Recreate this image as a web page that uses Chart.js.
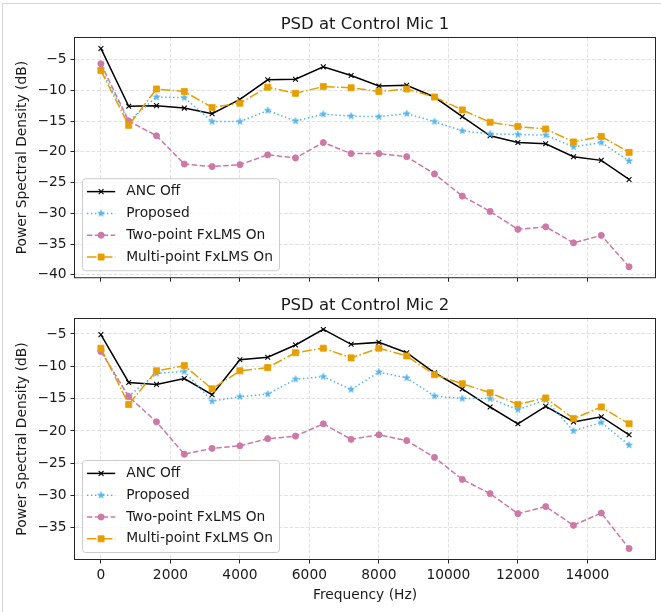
<!DOCTYPE html>
<html>
<head>
<meta charset="utf-8">
<script src="https://cdn.jsdelivr.net/npm/chart.js@4/dist/chart.umd.min.js"></script>
<style>
  html, body { margin: 0; padding: 0; background: #ffffff; }
  #wrap { position: relative; width: 661px; height: 612px; overflow: hidden; background: #ffffff; }
  #edge { position: absolute; left: 2px; top: 3px; width: 700px; height: 700px;
          border-left: 1px solid #d6d6d6; border-top: 1px solid #d6d6d6; }
  canvas { position: absolute; left: 0; }
  #mic1 { top: 0; }
  #mic2 { top: 281px; }
</style>
</head>
<body>
<div id="wrap">
  <div id="edge"></div>
  <canvas id="mic1" width="661" height="290"></canvas>
  <canvas id="mic2" width="661" height="331"></canvas>
</div>
<script>
// Frequency bins (Hz)
const freqs = [0, 800, 1600, 2400, 3200, 4000, 4800, 5600, 6400, 7200,
               8000, 8800, 9600, 10400, 11200, 12000, 12800, 13600, 14400, 15200];

// Axis tick values
const xTickValues = [0, 2000, 4000, 6000, 8000, 10000, 12000, 14000];
const yTickValuesMic1 = [-5, -10, -15, -20, -25, -30, -35, -40];
const yTickValuesMic2 = [-5, -10, -15, -20, -25, -30, -35];

// Text
const seriesLabels = ['ANC Off', 'Proposed', 'Two-point FxLMS On', 'Multi-point FxLMS On'];
const panelTitles = ['PSD at Control Mic 1', 'PSD at Control Mic 2'];
const xAxisTitle = 'Frequency (Hz)';
const yAxisTitle = 'Power Spectral Density (dB)';

// PSD at control mic 1 (dB)
const ancOffMic1   = [-3.2, -12.6, -12.5, -12.9, -13.8, -11.5, -8.3, -8.2, -6.2, -7.6,
                      -9.3, -9.2, -11.1, -14.3, -17.4, -18.5, -18.7, -20.8, -21.4, -24.5];
const proposedMic1 = [-6.6, -15.0, -11.1, -11.2, -15.1, -15.1, -13.3, -15.0, -13.9, -14.2,
                      -14.3, -13.8, -15.1, -16.6, -17.1, -17.2, -17.3, -19.2, -18.5, -21.5];
const twoPointMic1 = [-5.7, -15.0, -17.4, -22.0, -22.4, -22.1, -20.5, -21.0, -18.5, -20.3,
                      -20.3, -20.8, -23.6, -27.2, -29.7, -32.6, -32.2, -34.8, -33.6, -38.7];
const multiPointMic1 = [-6.8, -15.7, -9.8, -10.2, -12.8, -12.1, -9.5, -10.5, -9.4, -9.6,
                        -10.2, -9.8, -11.1, -13.2, -15.2, -15.9, -16.3, -18.4, -17.5, -20.1];

// PSD at control mic 2 (dB)
const ancOffMic2   = [-5.1, -12.5, -12.8, -11.9, -14.4, -9.0, -8.6, -6.7, -4.3, -6.6,
                      -6.3, -7.9, -11.0, -13.5, -16.3, -18.9, -16.2, -18.6, -17.8, -20.6];
const proposedMic2 = [-7.7, -14.6, -11.1, -10.8, -15.4, -14.7, -14.3, -12.0, -11.6, -13.6,
                      -10.9, -11.8, -14.6, -15.0, -15.0, -16.7, -15.2, -20.0, -18.7, -22.2];
const twoPointMic2 = [-7.7, -14.7, -18.6, -23.6, -22.7, -22.3, -21.2, -20.8, -18.9, -21.3,
                      -20.6, -21.5, -24.1, -27.5, -29.7, -32.8, -31.7, -34.6, -32.7, -38.2];
const multiPointMic2 = [-7.2, -15.9, -10.7, -9.9, -13.5, -10.7, -10.2, -7.9, -7.2, -8.7,
                        -7.2, -8.4, -11.3, -12.7, -14.1, -15.9, -14.9, -18.1, -16.3, -18.9];

const FONT = "'DejaVu Sans', 'Liberation Sans', sans-serif";
const LABEL_SIZE = 13.8;
const TITLE_SIZE = 16.5;
const TEXT = '#1a1a1a';
const SPINE = '#262626';

// Filled five-point star used as the "Proposed" marker
function starMarker(color, outer, inner) {
  const size = Math.ceil(outer * 2 + 2);
  const c = document.createElement('canvas');
  c.width = size; c.height = size;
  const g = c.getContext('2d');
  g.translate(size / 2, size / 2);
  g.beginPath();
  for (let k = 0; k < 10; k++) {
    const r = k % 2 ? inner : outer;
    const a = -Math.PI / 2 + k * Math.PI / 5;
    g.lineTo(r * Math.cos(a), r * Math.sin(a));
  }
  g.closePath();
  g.fillStyle = color; g.fill();
  g.lineWidth = 0.6; g.strokeStyle = color; g.stroke();
  return c;
}

const styles = [
  { color: '#000000', pointStyle: 'crossRot', radius: 3.4, pointBorderWidth: 1.1, dash: [], order: 4 },
  { color: '#56B4E9', pointStyle: starMarker('#56B4E9', 3.6, 1.4), radius: 3, pointBorderWidth: 0, dash: [1.5, 2.5], order: 3 },
  { color: '#CC79A7', pointStyle: 'circle', radius: 3.1, pointBorderWidth: 0.8, dash: [5.5, 2.4], order: 2 },
  { color: '#E69F00', pointStyle: 'rect', radius: 4.3, pointBorderWidth: 0.8, dash: [9.6, 2.4, 1.5, 2.4], order: 1 }
];

function buildDatasets(series) {
  return series.map((vals, i) => {
    const s = styles[i];
    return {
      label: seriesLabels[i],
      data: freqs.map((f, k) => ({ x: f, y: vals[k] })),
      borderColor: s.color,
      backgroundColor: s.color,
      borderWidth: 1.5,
      borderDash: s.dash,
      pointStyle: s.pointStyle,
      pointRadius: s.radius,
      pointBorderWidth: s.pointBorderWidth,
      pointBackgroundColor: s.color,
      pointBorderColor: s.color,
      tension: 0,
      fill: false,
      order: s.order
    };
  });
}

// Axes frame (all four spines) and the boxed legend in the lower-left corner
const frameAndLegend = {
  id: 'frameAndLegend',
  afterDatasetsDraw(chart) {
    const { ctx, chartArea: a } = chart;
    ctx.save();
    ctx.strokeStyle = SPINE;
    ctx.lineWidth = 1;
    ctx.setLineDash([]);
    ctx.strokeRect(a.left, a.top, a.right - a.left, a.bottom - a.top);

    const w = 197, h = 92;
    const x0 = a.left + 8, y0 = a.bottom - 7 - h;
    ctx.beginPath();
    ctx.roundRect(x0, y0, w, h, 3);
    ctx.fillStyle = 'rgba(255,255,255,0.8)';
    ctx.fill();
    ctx.strokeStyle = '#cccccc';
    ctx.lineWidth = 1;
    ctx.stroke();

    chart.data.datasets.forEach((ds, i) => {
      const ry = y0 + 12.9 + i * 21.8;
      ctx.save();
      ctx.strokeStyle = ds.borderColor;
      ctx.lineWidth = ds.borderWidth;
      ctx.setLineDash(ds.borderDash);
      ctx.beginPath();
      ctx.moveTo(x0 + 4.4, ry);
      ctx.lineTo(x0 + 32.7, ry);
      ctx.stroke();
      ctx.setLineDash([]);
      ctx.fillStyle = ds.pointBackgroundColor;
      ctx.strokeStyle = ds.pointBorderColor;
      ctx.lineWidth = ds.pointBorderWidth;
      Chart.helpers.drawPoint(ctx, {
        pointStyle: ds.pointStyle, rotation: 0,
        radius: ds.pointRadius, borderWidth: ds.pointBorderWidth
      }, x0 + 18.6, ry);
      ctx.restore();

      ctx.fillStyle = TEXT;
      ctx.font = LABEL_SIZE + 'px ' + FONT;
      ctx.textAlign = 'left';
      ctx.textBaseline = 'middle';
      ctx.fillText(ds.label, x0 + 43.7, ry);
    });
    ctx.restore();
  }
};

const minus = v => (v < 0 ? '\u2212' : '') + Math.abs(v);

function makePanel(canvasId, title, series, yTicks, showX) {
  const all = series.flat();
  const lo = Math.min(...all), hi = Math.max(...all);
  const yPad = (hi - lo) * 0.05;
  const xLo = freqs[0], xHi = freqs[freqs.length - 1];
  const xPad = (xHi - xLo) * 0.05;
  const gridOpts = {
    color: '#d9d9d9', lineWidth: 0.8,
    drawTicks: true, tickLength: 4,
    tickColor: SPINE, tickWidth: 1, tickBorderDash: []
  };
  return new Chart(document.getElementById(canvasId), {
    type: 'line',
    data: { datasets: buildDatasets(series) },
    plugins: [frameAndLegend],
    options: {
      responsive: false,
      animation: false,
      events: [],
      layout: { padding: { left: 0, right: 5.5, top: 0, bottom: 0 } },
      plugins: {
        legend: { display: false },
        tooltip: { enabled: false },
        title: {
          display: true, text: title, fullSize: false, color: TEXT,
          font: { family: FONT, size: TITLE_SIZE, weight: 'normal' },
          padding: { top: 14.5, bottom: 3.2 }
        }
      },
      scales: {
        x: {
          type: 'linear',
          min: xLo - xPad, max: xHi + xPad,
          afterBuildTicks: s => { s.ticks = xTickValues.map(v => ({ value: v })); },
          afterFit: s => { s.height = showX ? 52.5 : 10.5; },
          grid: gridOpts,
          border: { display: false, dash: [3.8, 1.7] },
          ticks: {
            display: showX, padding: 3.5, color: TEXT, maxRotation: 0, autoSkip: false,
            font: { family: FONT, size: LABEL_SIZE },
            callback: v => minus(v)
          },
          title: {
            display: showX, text: xAxisTitle, color: TEXT,
            font: { family: FONT, size: LABEL_SIZE },
            padding: { top: 0, bottom: 8.8 }
          }
        },
        y: {
          type: 'linear',
          min: lo - yPad, max: hi + yPad,
          afterBuildTicks: s => { s.ticks = yTicks.map(v => ({ value: v })); },
          afterFit: s => { s.width = 74.5; },
          grid: gridOpts,
          border: { display: false, dash: [3.8, 1.7] },
          ticks: {
            padding: 4, color: TEXT, autoSkip: false,
            font: { family: FONT, size: LABEL_SIZE },
            callback: v => minus(v)
          },
          title: {
            display: true, text: yAxisTitle, color: TEXT,
            font: { family: FONT, size: LABEL_SIZE },
            padding: { top: 14.2, bottom: 0 }
          }
        }
      }
    }
  });
}

makePanel('mic1', panelTitles[0],
  [ancOffMic1, proposedMic1, twoPointMic1, multiPointMic1], yTickValuesMic1, false);
makePanel('mic2', panelTitles[1],
  [ancOffMic2, proposedMic2, twoPointMic2, multiPointMic2], yTickValuesMic2, true);
</script>
</body>
</html>
